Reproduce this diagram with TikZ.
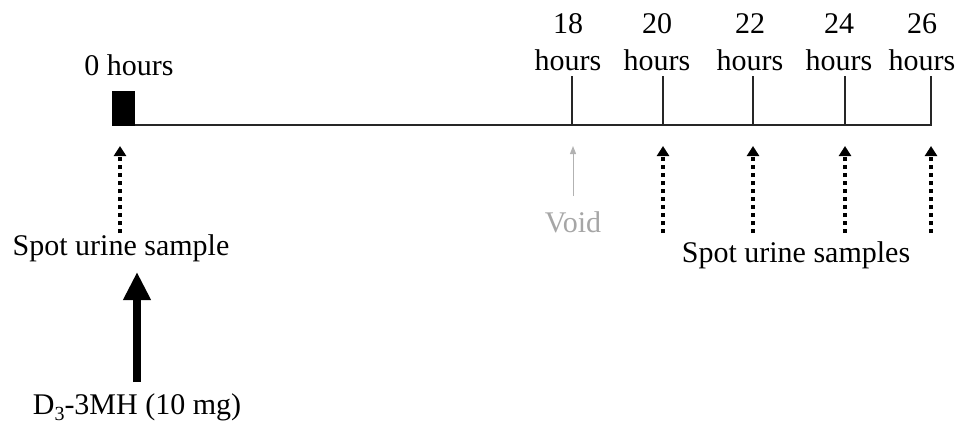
\documentclass[tikz,border=0pt]{standalone}
\usepackage{fontspec}
\setmainfont{Liberation Serif}
\usetikzlibrary{arrows.meta}
\begin{document}
\begin{tikzpicture}[x=0.5pt,y=-0.5pt,
  lbl/.style={font=\fontsize{15}{18}\selectfont, anchor=base, inner sep=0pt},
  axis/.style={line width=1pt, black!85},
  tick/.style={line width=1pt, black!85},
  dotarrow/.style={line width=2pt, dash pattern=on 2pt off 2pt, -{Triangle[width=6pt,length=5pt]}},
  voidarrow/.style={line width=0.5pt, black!30, -{Triangle[width=3pt,length=4pt]}},
  bigarrow/.style={line width=4pt, -{Triangle[width=13pt,length=14pt]}}]
\useasboundingbox (0,0) rectangle (961,430);
% timeline
\coordinate (t0) at (113,125);
\coordinate (tend) at (932,125);
\draw[axis] (t0) -- (tend);
\node[fill=black, draw=none, minimum width=11.5pt, minimum height=17.5pt, inner sep=0pt, anchor=south west] (blk) at (112,126) {};
% ticks
\foreach \n/\x/\lx in {18/572/568,20/663/657,22/753/750,24/845/839,26/931/922}{
  \coordinate (b\n) at (\x,125);
  \coordinate (u\n) at (\x,76);
  \draw[tick] (b\n) -- (u\n);
  \node[lbl] (num\n) at (\lx,33) {\n};
  \node[lbl] (hr\n) at (\lx,70) {hours};
}
\node[lbl] (h0) at (129,75) {0 hours};
% dotted arrows
\foreach \n/\x in {0/120,20/663,22/753,24/845,26/931}{
  \coordinate (ds\n) at (\x,233);
  \coordinate (de\n) at (\x,146);
  \draw[dotarrow] (ds\n) -- (de\n);
}
% void arrow
\coordinate (vs) at (573,196);
\coordinate (ve) at (573,146);
\draw[voidarrow] (vs) -- (ve);
\node[lbl, text=black!35] (void) at (573,232) {Void};
\node[lbl] (spot1) at (121,255) {Spot urine sample};
\node[lbl] (spot2) at (796,262) {Spot urine samples};
% big arrow
\coordinate (bs) at (137,382);
\coordinate (be) at (137,272);
\draw[bigarrow] (bs) -- (be);
\node[lbl] (dose) at (137,414) {D\raisebox{-3pt}{\fontsize{10}{12}\selectfont 3}-3MH (10 mg)};
\end{tikzpicture}
\end{document}
